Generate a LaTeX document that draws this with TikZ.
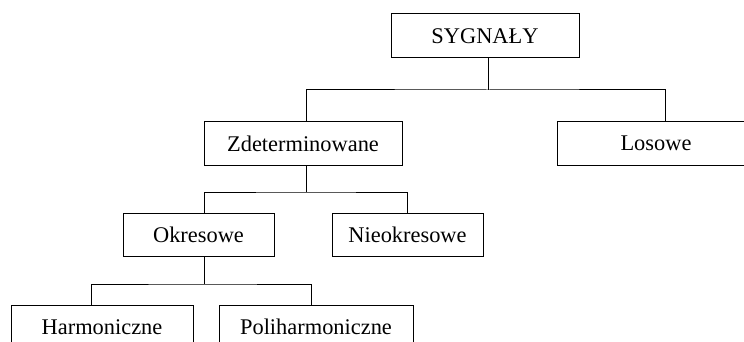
\documentclass[tikz,border=0pt]{standalone}
\usepackage{fontspec}
\setmainfont{Liberation Serif}
\begin{document}
\begin{tikzpicture}[x=1pt,y=-1pt,
  box/.style={draw, line width=1pt, inner sep=0pt, minimum height=43pt,
    font=\fontsize{22.4}{26}\selectfont},
  link/.style={line width=1pt}]
\clip (0,0) rectangle (744,342);
\useasboundingbox (0,0) rectangle (744,342);
\node[box, minimum width=188pt, minimum height=44pt] (syg) at (485,36) {SYGNAŁY};
\node[box, minimum width=198pt] (zdet) at (303,143.5) {Zdeterminowane};
\node[box, minimum width=198pt] (los) at (656,143.5) {Losowe};
\node[box, minimum width=151pt] (okr) at (198.5,234.5) {Okresowe};
\node[box, minimum width=151pt] (nie) at (407.5,234.5) {Nieokresowe};
\node[box, minimum width=182pt, minimum height=44pt] (har) at (102,327) {Harmoniczne};
\node[box, minimum width=194pt, minimum height=44pt] (pol) at (316,327) {Poliharmoniczne};
\coordinate (j1) at (488,90);
\coordinate (j2) at (306,192);
\coordinate (j3) at (204,284);
\draw[link] (syg.south -| j1) -- (j1);
\draw[link] ([xshift=3pt]zdet.north) |- (j1) -| ([xshift=9pt]los.north);
\draw[link] (zdet.south -| j2) -- (j2);
\draw[link] ([xshift=6pt]okr.north) |- (j2) -| (nie.north);
\draw[link] (okr.south -| j3) -- (j3);
\draw[link] ([xshift=-11pt]har.north) |- (j3) -| ([xshift=-5pt]pol.north);
\end{tikzpicture}
\end{document}
